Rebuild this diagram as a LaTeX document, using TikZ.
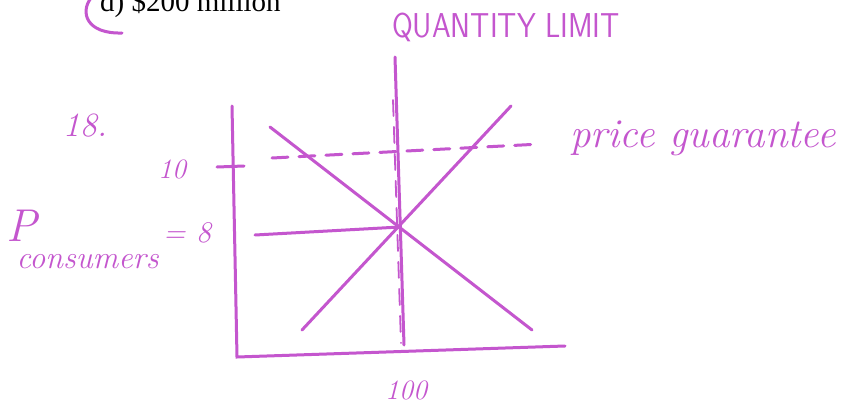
\documentclass[tikz,border=0pt]{standalone}
\usepackage{fontspec}
\newfontfamily\printfont{Liberation Serif}
\definecolor{ink}{RGB}{196,86,206}

\begin{document}
\begin{tikzpicture}[
    x=1pt, y=-1pt,
    pen/.style={draw=ink, line width=3pt, line cap=round},
    guide/.style={pen, dash pattern=on 16pt off 11pt},
    hand/.style={text=ink, inner sep=0pt, font=\itshape\fontsize{#1}{#1}\selectfont},
    caps/.style={text=ink, inner sep=0pt, font=\sffamily\fontsize{#1}{#1}\selectfont}
]
    \useasboundingbox[fill=white] (0,0) rectangle (846,404);

    % Printed answer line, cut off at the top
    \node[anchor=base west, inner sep=0pt, font=\printfont\fontsize{29}{29}\selectfont] (answer) at (100,12) {d) \$200 million};
    \draw[pen] (91,-2) .. controls (80,12) and (86,34) .. (122,33);

    % Axes
    \coordinate (ytop) at (232,106);
    \coordinate (origin) at (237,357);
    \coordinate (xend) at (565,346);
    \draw[pen] (ytop) -- (origin) -- (xend);
    \coordinate (tickL) at (217,167);
    \coordinate (tickR) at (244,166);
    \draw[pen] (tickL) -- (tickR);

    % Quantity limit
    \coordinate (qtop) at (395,57);
    \coordinate (qbot) at (404,345);
    \coordinate (qdtop) at (393,100);
    \coordinate (qdbot) at (401,343);
    \draw[pen] (qtop) -- (qbot);
    \draw[guide, line width=1.8pt] (qdtop) -- (qdbot);

    % Demand and supply
    \coordinate (eq) at (400,227);
    \coordinate (dtop) at (270,127);
    \coordinate (dbot) at (532,330);
    \coordinate (sbot) at (302,330);
    \coordinate (stop) at (511,106);
    \draw[pen] (dtop) -- (dbot);
    \draw[pen] (sbot) -- (stop);

    % Consumer price 8 and price guarantee 10
    \coordinate (p8) at (255,235);
    \draw[pen] (p8) -- (eq);
    \coordinate (g10L) at (272,158);
    \coordinate (g10R) at (541,144);
    \draw[guide] (g10L) -- (g10R);

    % Handwritten labels
    \node[caps=30] (qlabel) at (506,27) {\scalebox{1}[1.15]{QUANTITY LIMIT}};
    \node[hand=34] (qnum) at (85,126) {18.};
    \node[hand=28] (ten) at (172,169) {10};
    \node[hand=46, anchor=base west] (pcons) at (6,241) {P\kern-20pt\raisebox{-27pt}{\fontsize{32}{32}\selectfont consumers}};
    \node[hand=30] (eight) at (187,233) {= 8};
    \node[hand=28] (hundred) at (406,390) {100};
    \node[hand=41, anchor=base west] (guarantee) at (570,147) {price guarantee};
\end{tikzpicture}
\end{document}
